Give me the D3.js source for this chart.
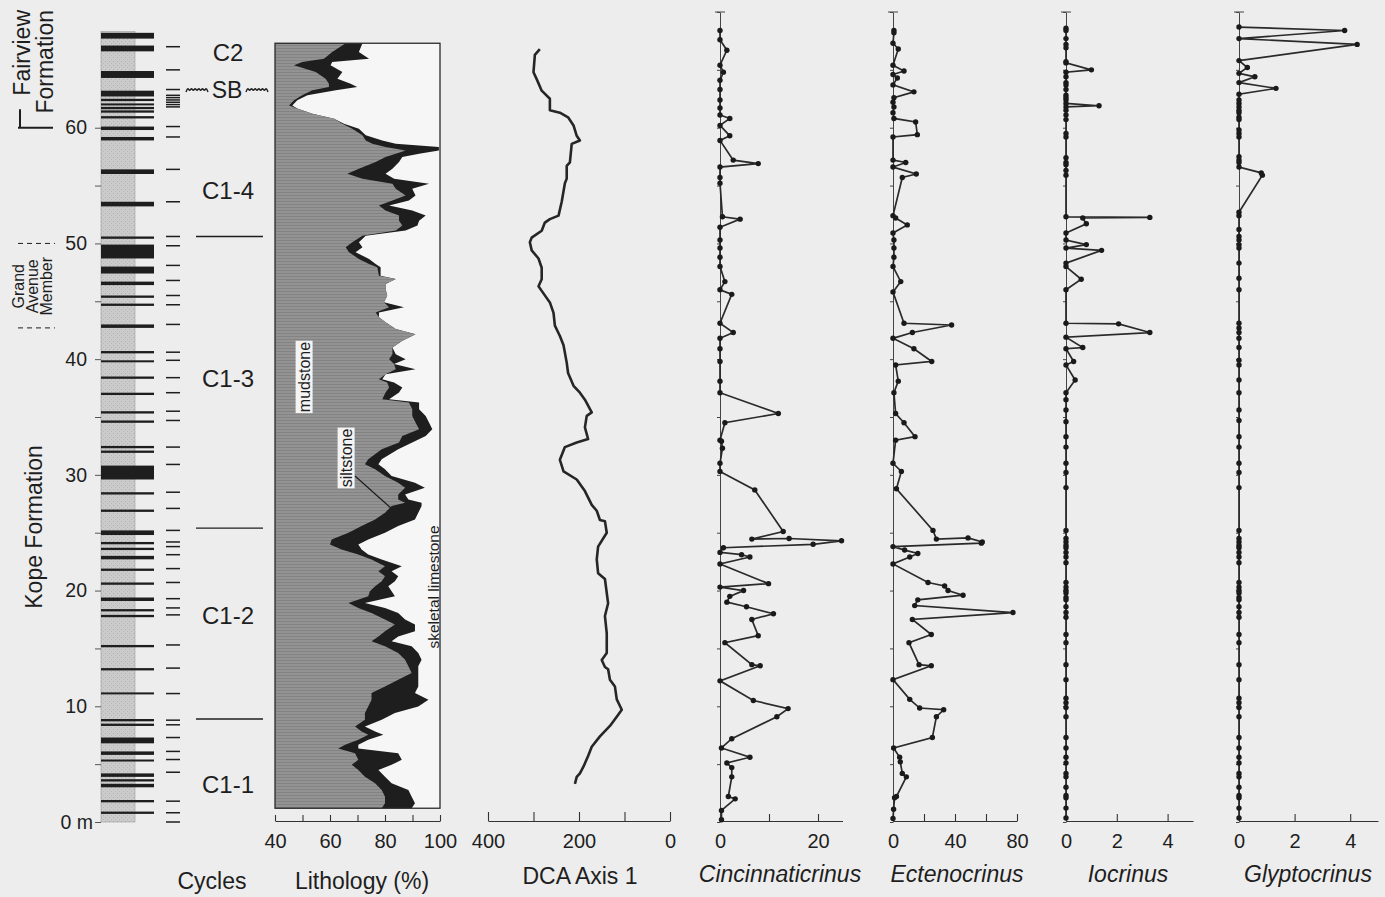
<!DOCTYPE html>
<html>
<head>
<meta charset="utf-8">
<script src="https://cdn.jsdelivr.net/npm/d3@7"></script>
<style>
  body { margin: 0; background: #ededed; }
  svg { display: block; font-family: "Liberation Sans", Arial, Helvetica, sans-serif; }
</style>
</head>
<body>
<div id="chart"></div>
<script>
// ---- data (depth in m) ----
// limestone beds in the section column: [base, top]
const beds = [
  [67.7,68.2],[66.6,67.1],[64.3,64.9],[62.7,63.2],[62.3,62.5],[62.0,62.1],[61.6,61.8],[61.3,61.5],
  [60.8,61.0],[59.8,60.1],[58.9,59.2],[56.0,56.4],[53.2,53.6],[50.4,50.6],[48.7,49.9],[47.4,48.0],
  [46.4,46.7],[45.3,45.5],[44.6,44.8],[42.7,43.0],[40.5,40.7],[39.8,39.9],[38.3,38.5],[36.9,37.1],
  [35.3,35.5],[34.5,34.7],[32.3,32.5],[31.9,32.1],[29.6,30.8],[28.3,28.5],[26.8,27.0],[24.8,25.2],
  [24.0,24.2],[23.5,23.7],[22.7,23.0],[21.7,21.9],[20.5,20.7],[19.1,19.4],[18.2,18.4],[17.7,17.9],
  [15.1,15.3],[13.1,13.3],[11.1,11.2],[8.7,8.9],[8.3,8.5],[6.8,7.3],[5.8,6.1],[5.3,5.4],
  [3.9,4.2],[3.5,3.7],[3.0,3.3],[1.7,1.9],[0.7,0.9]
];

// cycle marks (m)
const cycleMarks = [67.0,65.0,63.3,62.8,62.6,62.4,62.2,62.0,61.8,60.1,59.2,56.4,53.6,50.6,49.8,48.1,
  46.8,45.5,44.7,43.0,40.6,39.9,38.4,37.1,35.5,34.7,32.4,30.9,28.5,27.1,25.2,24.2,23.8,23.1,21.9,
  20.7,19.3,18.5,17.9,15.3,13.3,11.1,8.8,8.4,7.3,6.1,5.4,4.3,1.8,0.8,0.0];

const cycleBounds = [50.6, 25.4, 8.9];
const cycleNames = ["C2", "C1-4", "C1-3", "C1-2", "C1-1"];
const cycleNameDepth = [65.8, 53.8, 37.6, 17.1, 2.5];
const sbDepth = 63.3;

// lithology: [depth, mudstone %, mudstone + siltstone %] (axis starts at 40)
const lithology = [
  [67.3,65.7,71.8],[66.55,60.8,70.5],[65.97,57.8,74.2],[65.68,49.9,60.8],[65.4,46.9,60.2],
  [64.82,54.8,64.5],[64.24,58.4,62.7],[63.81,59.6,67.5],[63.52,59.6,69.9],[63.23,53.6,62.1],
  [62.8,49.9,51.8],[62.37,46.9,48.1],[61.93,45.1,46.3],[61.65,48.1,48.1],[61.21,53.6,53.6],
  [60.78,61.5,61.5],[60.35,64.5,65.1],[59.91,68.1,70.5],[59.34,71.8,73.0],[58.9,73.0,79.0],
  [58.61,75.4,83.9],[58.33,80.2,99.6],[58.04,87.5,99.6],[57.75,83.9,92.4],[57.46,80.2,86.3],
  [57.03,76.6,85.1],[56.45,70.5,82.7],[56.02,66.3,80.2],[55.58,71.8,83.3],[55.15,82.7,96.0],
  [54.72,83.9,89.9],[54.14,87.5,91.1],[53.7,82.7,88.7],[53.27,77.8,81.5],[52.84,80.2,89.9],
  [52.41,85.1,94.8],[51.97,85.1,92.4],[51.54,86.3,91.8],[51.11,83.9,87.5],[50.67,71.8,73.0],
  [50.1,68.1,70.5],[49.67,65.7,71.8],[49.24,66.9,69.3],[48.66,70.5,74.2],[48.23,74.2,76.6],
  [47.94,77.2,78.4],[47.21,77.8,78.4],[46.93,83.9,83.9],[46.49,80.2,80.2],[46.06,80.2,80.2],
  [45.48,80.8,80.8],[44.91,79.6,79.6],[44.48,81.5,86.9],[44.04,76.6,77.8],[43.61,77.8,77.8],
  [43.18,80.2,80.2],[42.6,83.9,83.9],[42.16,91.1,91.1],[41.59,86.3,86.3],[41.01,82.7,82.7],
  [40.43,82.7,83.9],[40.0,81.5,87.5],[39.57,83.3,83.3],[39.13,83.9,91.1],[38.7,80.2,80.2],
  [38.27,77.8,79.0],[37.98,80.8,83.3],[37.55,81.5,86.3],[37.12,80.2,85.1],[36.54,79.0,81.5],
  [36.25,88.7,92.4],[35.67,89.9,92.4],[35.09,89.9,94.8],[34.52,91.1,96.0],[33.94,92.4,97.2],
  [33.36,86.3,94.8],[32.79,85.1,89.9],[32.21,78.8,84.8],[31.34,73.9,78.8],[30.91,72.7,77.6],
  [30.48,76.4,80.0],[29.9,80.0,82.4],[29.32,84.8,90.9],[28.89,87.3,94.5],[28.31,84.8,87.3],
  [27.88,84.8,88.5],[27.59,87.3,93.3],[27.3,82.4,93.3],[26.73,80.0,92.1],[26.15,76.4,90.9],
  [25.57,71.5,84.8],[25.0,66.7,80.0],[24.42,60.6,73.9],[23.98,60.0,70.3],[23.55,64.2,71.5],
  [23.12,70.3,73.9],[22.68,75.1,78.8],[22.1,80.0,86.1],[21.67,77.6,82.4],[21.24,80.0,84.8],
  [20.81,78.8,83.6],[20.37,76.4,81.2],[19.94,74.5,82.4],[19.51,73.9,83.6],[18.93,66.7,72.7],
  [18.5,70.3,80.0],[18.07,75.1,84.8],[17.49,80.0,87.3],[17.06,83.6,90.9],[16.48,80.0,90.9],
  [16.04,77.6,84.8],[15.61,75.1,82.4],[15.18,80.0,89.7],[14.6,84.8,92.1],[14.03,87.3,93.3],
  [13.45,88.5,92.1],[12.87,89.7,92.1],[12.29,84.8,92.1],[11.71,80.0,92.1],[11.14,75.1,90.9],
  [10.56,75.1,95.8],[9.98,73.9,92.1],[9.41,72.7,83.6],[8.83,72.7,78.8],[8.25,69.1,72.7],
  [7.82,71.5,76.4],[7.53,73.9,79.4],[7.1,70.3,73.9],[6.67,65.5,70.3],[6.36,63.0,70.3],
  [5.95,69.1,84.8],[5.37,70.3,86.1],[4.94,67.9,82.4],[4.5,70.3,77.6],[3.92,72.7,80.0],
  [3.35,76.4,82.4],[2.77,78.8,88.5],[2.19,80.0,89.7],[1.62,80.0,90.9],[1.19,78.8,89.7]
];

// DCA axis 1 scores: [depth, score]
const dca = [
  [66.8,286],[66.3,297],[64.8,300],[64.2,293],[63.2,282],[62.5,264],[61.5,264],[61.3,242],[60.9,224],
  [60.2,212],[59.3,205],[58.9,198],[58.6,216],[57.0,220],[56.7,227],[55.6,227],[55.2,231],[53.6,238],
  [52.4,245],[52.1,264],[51.8,275],[51.1,282],[50.5,304],[50.1,308],[49.4,304],[48.7,289],[47.9,282],
  [46.9,282],[46.3,289],[45.9,282],[44.9,264],[44.0,256],[42.9,253],[42.0,242],[41.2,234],[39.7,227],
  [38.8,224],[37.7,212],[37.1,198],[36.5,187],[35.4,172],[35.1,183],[34.1,187],[33.1,180],[32.8,205],
  [32.4,231],[31.3,242],[30.3,234],[29.6,205],[28.6,187],[27.4,172],[26.9,161],[26.1,154],[26.0,143],
  [25.0,139],[23.8,158],[22.7,161],[21.5,158],[21.0,143],[18.9,136],[17.8,143],[16.3,139],[14.6,139],
  [14.0,150],[13.4,143],[13.2,136],[12.3,132],[11.7,121],[10.6,117],[9.7,106],[9.1,117],[8.3,132],
  [7.4,154],[6.5,172],[5.7,180],[4.8,190],[4.2,198],[3.9,205],[3.3,209]
];

// crinoid counts: [depth, count]
const cincinnaticrinus = [
  [68.4,0],[67.6,0],[66.7,1.4],[65.4,0],[64.8,0.7],[64.1,0],[63.3,0],[62.4,0],[61.7,0],[61.1,0],
  [60.8,2],[60.2,0],[59.3,2],[58.9,0],[57.2,2.7],[56.9,7.8],[56.6,0],[55.7,0],[55.2,0],[52.3,0.5],
  [52.1,4.1],[51.4,0],[50.3,0],[49.6,0],[48.8,0],[48.0,0],[46.7,1],[46.0,0],[45.6,2.4],[43.1,0],
  [42.3,2.7],[41.8,0],[40.9,0],[39.8,0],[38.1,0],[37.1,0],[35.3,11.9],[34.5,1],[33.0,0],[32.9,0.3],
  [32.3,0.5],[31.0,0],[30.3,0],[28.7,7.1],[25.1,12.9],[24.45,6.5],[24.5,14.1],[24.3,24.8],[24.0,19],
  [23.7,0.7],[23.3,0],[23.1,4.4],[22.9,6.1],[22.3,0],[20.6,9.9],[20.3,0],[20.0,4.8],[19.5,2],
  [19.0,1.4],[18.6,5.4],[18.0,10.9],[17.5,6.5],[16.1,7.8],[15.5,1],[13.6,6.5],[13.5,8.2],[12.2,0],
  [10.5,6.8],[9.8,13.9],[9.1,11.6],[7.2,2.4],[6.4,0.3],[5.6,6.1],[5.1,1.4],[4.7,2.4],[3.9,2.4],
  [2.2,1.7],[2.0,3.1],[1.0,0.3],[0.2,0.3]
];

const ectenocrinus = [
  [68.4,0.6],[68.2,0.6],[67.3,0],[66.8,3.4],[65.4,0],[64.9,7.1],[64.6,0],[64.3,2.8],[63.7,0],[63.1,13.5],
  [62.6,0.6],[62.2,0],[61.8,0.6],[61.3,0],[60.8,0.6],[60.5,14.6],[59.4,15.7],[59.2,0],[57.2,0],[57.0,8.2],
  [56.6,0],[56.0,15],[55.7,6],[52.4,0],[52.2,1.7],[51.6,9.2],[50.9,0],[50.3,0.6],[49.6,0.6],[48.8,0.6],
  [48.0,0],[46.7,5],[45.8,0],[43.1,7.1],[42.95,37.8],[42.3,12.5],[41.8,0],[40.9,13.5],[39.8,25],[39.5,1.7],
  [38.1,3.4],[37.1,0.6],[35.3,1.7],[34.5,7.1],[33.3,14.2],[33.0,1.7],[31.0,0],[30.3,5.4],[28.8,2.2],
  [25.2,25.8],[24.45,28],[24.55,48.4],[24.2,57.6],[24.1,57],[23.8,0],[23.5,7.5],[23.2,16],[22.9,10.8],
  [22.3,0],[20.7,22.6],[20.4,33.3],[20.0,35.5],[19.6,45.2],[19.2,16],[18.7,14],[18.1,77.4],[17.5,12.5],
  [16.2,24.7],[15.5,10.3],[13.6,16.8],[13.5,24.7],[12.3,0],[10.6,10.8],[9.85,17.2],[9.7,32.7],[9.1,28],
  [7.3,25.4],[6.4,0.4],[5.6,4.3],[5.2,4.7],[4.2,6],[3.9,8.6],[2.2,2.2],[2.1,1],[1.1,0.4],[0.3,0]
];

const iocrinus = [
  [68.6,0],[68.4,0],[67.7,0],[67.2,0],[66.9,0],[65.7,0],[65.6,0],[65.0,1.0],[64.8,0],[64.4,0],
  [63.9,0],[63.7,0],[63.3,0],[62.8,0],[62.6,0],[62.4,0],[62.1,0],[61.9,1.3],[61.8,0],[61.5,0],
  [61.1,0],[60.7,0],[59.5,0],[59.2,0],[57.4,0],[57.0,0],[56.8,0],[56.3,0],[55.9,0],[52.3,0],
  [52.25,3.3],[52.2,0.66],[51.7,0.8],[50.9,0],[50.3,0],[49.9,0.8],[49.6,0],[49.4,1.4],[48.3,0],
  [48.0,0],[46.9,0.6],[46.0,0],[43.1,0],[43.05,2.07],[42.3,3.3],[41.9,0],[41.0,0.66],[40.9,0],
  [39.8,0.3],[39.5,0],[38.2,0.36],[37.1,0],[36.5,0],[35.6,0],[34.6,0],[33.3,0],[32.4,0],
  [31.0,0],[30.2,0],[28.9,0],[25.2,0],[24.5,0],[24.2,0],[23.9,0],[23.7,0],[23.3,0],[22.9,0],
  [22.4,0],[20.7,0],[20.3,0],[20.0,0],[19.8,0],[19.4,0],[19.2,0],[18.6,0],[18.1,0],[17.7,0],
  [16.2,0],[15.5,0],[13.6,0],[12.3,0],[10.7,0],[10.3,0],[9.9,0],[9.1,0],[7.3,0],[6.4,0],[5.6,0],
  [5.1,0],[4.2,0],[3.9,0],[3.0,0],[2.3,0],[2.1,0],[1.2,0],[0.35,0]
];

const glyptocrinus = [
  [68.7,0],[68.4,3.8],[67.7,0],[67.2,4.25],[65.8,0],[65.2,0.3],[64.7,0],[64.4,0.57],[63.9,0],[63.4,1.33],
  [62.9,0],[62.4,0],[62.1,0],[61.8,0],[61.5,0],[61.3,0],[60.9,0],[60.7,0],[59.8,0],[59.5,0],[59.2,0],
  [57.5,0],[57.2,0],[57.0,0],[56.6,0],[56.1,0.8],[55.9,0.84],[52.7,0],[52.4,0],[51.2,0],[50.6,0],
  [50.3,0],[49.9,0],[49.6,0],[48.3,0],[47.0,0],[46.0,0],[43.1,0],[42.7,0],[42.3,0],[41.8,0],[41.0,0],
  [39.9,0],[39.5,0],[38.2,0],[37.1,0],[35.6,0],[34.7,0],[33.3,0],[32.4,0],
  [31.0,0],[30.2,0],[28.9,0],[25.2,0],[24.5,0],[24.2,0],[23.9,0],[23.7,0],[23.3,0],[22.9,0],
  [22.4,0],[20.7,0],[20.3,0],[20.0,0],[19.8,0],[19.4,0],[19.2,0],[18.6,0],[18.1,0],[17.7,0],
  [16.2,0],[15.5,0],[13.6,0],[12.3,0],[10.7,0],[10.3,0],[9.9,0],[9.1,0],[7.3,0],[6.4,0],[5.6,0],
  [5.1,0],[4.2,0],[3.9,0],[3.0,0],[2.3,0],[2.1,0],[1.2,0],[0.35,0]
];

// ---- chart ----
const W = 1385, H = 897;
const ink = "#1e1e1e";

const svg = d3.select("#chart").append("svg")
    .attr("width", W)
    .attr("height", H);

svg.append("rect").attr("width", W).attr("height", H).attr("fill", "#ededed");

// textures
const defs = svg.append("defs");
const mud = defs.append("pattern").attr("id", "mud")
    .attr("patternUnits", "userSpaceOnUse").attr("width", 6).attr("height", 3);
mud.append("rect").attr("width", 6).attr("height", 3).attr("fill", "#939393");
mud.append("rect").attr("width", 6).attr("height", 1).attr("fill", "#838383");

const stip = defs.append("pattern").attr("id", "stip")
    .attr("patternUnits", "userSpaceOnUse").attr("width", 4).attr("height", 4);
stip.append("rect").attr("width", 4).attr("height", 4).attr("fill", "#cbcbcb");
stip.append("rect").attr("x", 1).attr("y", 1).attr("width", 1).attr("height", 1).attr("fill", "#b2b2b2");
stip.append("rect").attr("x", 3).attr("y", 3).attr("width", 1).attr("height", 1).attr("fill", "#b8b8b8");

const y = d3.scaleLinear().domain([0, 70]).range([822, 12]);

// ---- section column ----
let colX = 101, colW = 34, bedW = 53;
svg.append("rect")
    .attr("x", colX).attr("width", colW)
    .attr("y", y(68.3)).attr("height", y(0) - y(68.3))
    .attr("fill", "url(#stip)")
    .attr("stroke", "#9a9a9a").attr("stroke-width", 0.6);

svg.selectAll(".bed").data(beds).enter().append("rect")
    .attr("class", "bed")
    .attr("x", colX).attr("width", bedW)
    .attr("y", d => y(d[1]))
    .attr("height", d => Math.max(2, y(d[0]) - y(d[1])))
    .attr("fill", ink);

let depthAxis = svg.append("g")
    .attr("transform", `translate(${colX},0)`)
    .call(d3.axisLeft(y).tickValues(d3.range(0, 61, 5)).tickSize(6).tickPadding(8)
        .tickFormat(d => d === 0 ? "0 m" : (d % 10 === 0 ? d : "")));
depthAxis.select(".domain").remove();
depthAxis.selectAll("line").attr("stroke", "#555");
depthAxis.selectAll("text").attr("font-size", 19.5).attr("fill", ink).attr("font-family", null)
    .attr("dx", d => d === 0 ? 6 : 0);

// formation labels
svg.append("text").attr("transform", "translate(30,10) rotate(-90)")
    .attr("text-anchor", "end").attr("font-size", 23).attr("fill", ink).text("Fairview");
svg.append("text").attr("transform", "translate(53,10) rotate(-90)")
    .attr("text-anchor", "end").attr("font-size", 23).attr("fill", ink).text("Formation");
svg.append("line").attr("x1", 20).attr("x2", 20).attr("y1", y(61.6)).attr("y2", y(60))
    .attr("stroke", ink).attr("stroke-width", 2);
svg.append("line").attr("x1", 18).attr("x2", 53).attr("y1", y(60)).attr("y2", y(60))
    .attr("stroke", ink).attr("stroke-width", 2);

svg.append("text").attr("transform", `translate(42,${y(25.5)}) rotate(-90)`)
    .attr("text-anchor", "middle").attr("font-size", 23).attr("fill", ink).text("Kope Formation");

["Grand", "Avenue", "Member"].forEach((t, i) => {
    svg.append("text").attr("transform", `translate(${24 + i * 14},${y(46.3)}) rotate(-90)`)
        .attr("text-anchor", "middle").attr("font-size", 16).attr("fill", ink).text(t);
});
[50, 42.7].forEach(d => {
    svg.append("line").attr("x1", 18).attr("x2", 55).attr("y1", y(d)).attr("y2", y(d))
        .attr("stroke", ink).attr("stroke-width", 1).attr("stroke-dasharray", "5,4");
});

// ---- cycles ----
svg.selectAll(".cyc").data(cycleMarks).enter().append("line")
    .attr("class", "cyc")
    .attr("x1", 166).attr("x2", 180)
    .attr("y1", d => y(d)).attr("y2", d => y(d))
    .attr("stroke", ink).attr("stroke-width", 1.5);

svg.selectAll(".cbound").data(cycleBounds).enter().append("line")
    .attr("class", "cbound")
    .attr("x1", 196).attr("x2", 263)
    .attr("y1", d => y(d)).attr("y2", d => y(d))
    .attr("stroke", ink).attr("stroke-width", 1.4);

svg.selectAll(".cname").data(cycleNames).enter().append("text")
    .attr("class", "cname")
    .attr("x", 228)
    .attr("y", (d, i) => y(cycleNameDepth[i]))
    .attr("text-anchor", "middle").attr("font-size", 24).attr("fill", ink)
    .text(d => d);

// sequence boundary
svg.append("text").attr("x", 227).attr("y", y(sbDepth) + 8)
    .attr("text-anchor", "middle").attr("font-size", 23).attr("fill", ink).text("SB");
const wave = d3.line().curve(d3.curveBasis);
[[186, 208], [246, 268]].forEach(([a, b]) => {
    let pts = [];
    for (let k = 0; k <= 12; k++) pts.push([a + (b - a) * k / 12, y(sbDepth) + (k % 2 ? -2.5 : 2.5)]);
    svg.append("path").attr("d", wave(pts)).attr("fill", "none").attr("stroke", ink).attr("stroke-width", 1.4);
});

// ---- lithology ----
const xL = d3.scaleLinear().domain([40, 100]).range([275, 440]);
const lTop = d3.max(lithology, d => d[0]), lBot = d3.min(lithology, d => d[0]);

svg.append("rect")
    .attr("x", xL(40)).attr("width", xL(100) - xL(40))
    .attr("y", y(lTop)).attr("height", y(lBot) - y(lTop))
    .attr("fill", "#f6f6f6");

svg.append("path").datum(lithology)
    .attr("d", d3.area().y(d => y(d[0])).x0(xL(40)).x1(d => xL(d[2])))
    .attr("fill", ink);
svg.append("path").datum(lithology)
    .attr("d", d3.area().y(d => y(d[0])).x0(xL(40)).x1(d => xL(d[1])))
    .attr("fill", "url(#mud)");

svg.append("rect")
    .attr("x", xL(40)).attr("width", xL(100) - xL(40))
    .attr("y", y(lTop)).attr("height", y(lBot) - y(lTop))
    .attr("fill", "none").attr("stroke", "#2a2a2a").attr("stroke-width", 1.3);

// lithology labels
function boxLabel(cx, cy, t) {
    let g = svg.append("g").attr("transform", `translate(${cx},${cy}) rotate(-90)`);
    let txt = g.append("text").attr("text-anchor", "middle").attr("dy", "0.35em")
        .attr("font-size", 16).attr("fill", ink).text(t);
    let bb = txt.node().getBBox();
    g.insert("rect", "text").attr("x", bb.x - 1).attr("y", bb.y).attr("width", bb.width + 2)
        .attr("height", bb.height).attr("fill", "#f4f4f4");
}
boxLabel(304, 377, "mudstone");
boxLabel(346, 458, "siltstone");
svg.append("line").attr("x1", 355).attr("y1", 476).attr("x2", 392).attr("y2", 509)
    .attr("stroke", ink).attr("stroke-width", 1.2);
svg.append("text").attr("transform", "translate(434,587) rotate(-90)")
    .attr("text-anchor", "middle").attr("dy", "0.35em").attr("font-size", 15.5).attr("fill", ink)
    .text("skeletal limestone");

// ---- bottom axes ----
const axisY = 821;
function bottomAxis(scale, minor, major, labels, majorLen, minorLen) {
    let g = svg.append("g").attr("transform", `translate(0,${axisY})`);
    g.call(d3.axisBottom(scale).tickValues(minor).tickSize(-minorLen).tickFormat(""));
    g.call(d3.axisBottom(scale).tickValues(major).tickSize(-majorLen).tickSizeOuter(0).tickPadding(13)
        .tickFormat(d => labels.includes(d) ? d : ""));
    g.selectAll("path,line").attr("stroke", "#333").attr("stroke-width", 1.1);
    g.selectAll("text").attr("font-size", 20).attr("fill", ink).attr("font-family", null);
    return g;
}

bottomAxis(xL, [], d3.range(40, 101, 10), [40, 60, 80, 100], 6, 0);

const xD = d3.scaleLinear().domain([400, 0]).range([488, 670]);
bottomAxis(xD, d3.range(0, 401, 20), d3.range(0, 401, 100), [400, 200, 0], 9, 5);

const xC = d3.scaleLinear().domain([0, 25]).range([720, 842.5]);
const xE = d3.scaleLinear().domain([0, 80]).range([893, 1017]);
const xI = d3.scaleLinear().domain([0, 5]).range([1066, 1193]);
const xG = d3.scaleLinear().domain([0, 5]).range([1239, 1378]);

bottomAxis(xC, d3.range(0, 26, 5), [0, 10, 20], [0, 20], 7, 4);
bottomAxis(xE, d3.range(0, 81, 10), [0, 20, 40, 60, 80], [0, 40, 80], 7, 4);
bottomAxis(xI, d3.range(0, 6, 1), [0, 2, 4], [0, 2, 4], 7, 4);
bottomAxis(xG, d3.range(0, 6, 1), [0, 2, 4], [0, 2, 4], 7, 4);

// ---- DCA curve ----
svg.append("path").datum(dca)
    .attr("d", d3.line().x(d => xD(d[1])).y(d => y(d[0])))
    .attr("fill", "none").attr("stroke", "#262626").attr("stroke-width", 2.6)
    .attr("stroke-linejoin", "round");

// ---- crinoid panels ----
function taxonPanel(data, xs) {
    let ax = svg.append("g").attr("transform", `translate(${xs(0)},0)`)
        .call(d3.axisLeft(y).tickValues(d3.range(0, 71, 5)).tickSize(3).tickSizeOuter(0).tickFormat(""));
    ax.selectAll("path,line").attr("stroke", "#444").attr("stroke-width", 1);
    svg.append("line").attr("x1", xs(0) - 5).attr("x2", xs(0) + 5).attr("y1", y(70)).attr("y2", y(70))
        .attr("stroke", "#444");
    svg.append("path").datum(data)
        .attr("d", d3.line().x(d => xs(d[1])).y(d => y(d[0])))
        .attr("fill", "none").attr("stroke", "#2a2a2a").attr("stroke-width", 1.7);
    svg.append("g").selectAll("circle").data(data).enter().append("circle")
        .attr("cx", d => xs(d[1])).attr("cy", d => y(d[0])).attr("r", 2.7)
        .attr("fill", "#1a1a1a");
}
taxonPanel(cincinnaticrinus, xC);
taxonPanel(ectenocrinus, xE);
taxonPanel(iocrinus, xI);
taxonPanel(glyptocrinus, xG);

// ---- panel titles ----
const titles = [
    ["Cycles", 212, 889, false],
    ["Lithology (%)", 362, 889, false],
    ["DCA Axis 1", 580, 884, false],
    ["Cincinnaticrinus", 780, 882, true],
    ["Ectenocrinus", 957, 882, true],
    ["Iocrinus", 1128, 882, true],
    ["Glyptocrinus", 1308, 882, true]
];
svg.selectAll(".title").data(titles).enter().append("text")
    .attr("class", "title")
    .attr("x", d => d[1]).attr("y", d => d[2])
    .attr("text-anchor", "middle").attr("font-size", 23).attr("fill", ink)
    .attr("font-style", d => d[3] ? "italic" : null)
    .text(d => d[0]);
</script>
</body>
</html>
